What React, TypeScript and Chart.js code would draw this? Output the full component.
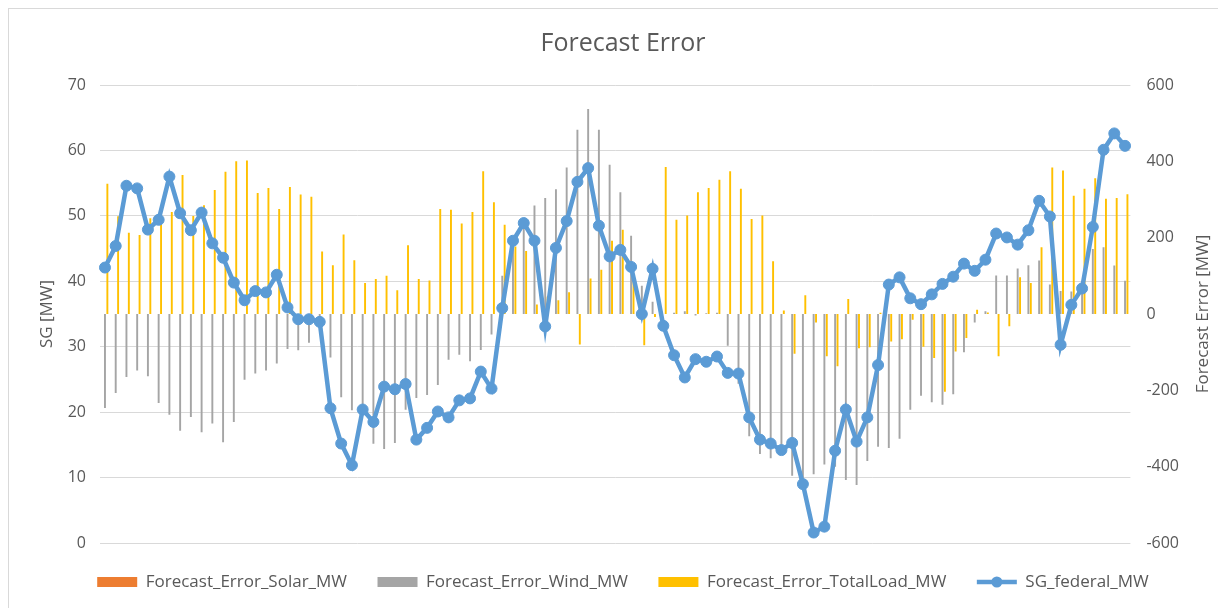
import React, { useEffect, useRef } from 'react';
import { Chart, registerables } from 'chart.js';

Chart.register(...registerables);

// 96 quarter-hour slots of one day (labels not shown on the chart)
const categories: string[] = Array.from({ length: 96 }, (_, i) =>
  `${String(Math.floor(i / 4)).padStart(2, '0')}:${String((i % 4) * 15).padStart(2, '0')}`
);

const sgFederal = [
  42.1, 45.4, 54.6, 54.2, 47.9, 49.4, 56.0, 50.4, 47.8, 50.5, 45.8, 43.6,
  39.8, 37.1, 38.5, 38.3, 41.0, 36.0, 34.2, 34.2, 33.8, 20.6, 15.2, 11.9,
  20.4, 18.5, 23.9, 23.5, 24.3, 15.8, 17.6, 20.1, 19.2, 21.8, 22.1, 26.2,
  23.6, 35.9, 46.2, 48.9, 46.2, 33.1, 45.1, 49.2, 55.2, 57.3, 48.5, 43.8,
  44.8, 42.2, 35.0, 41.9, 33.2, 28.7, 25.3, 28.1, 27.7, 28.5, 26.0, 25.9,
  19.2, 15.8, 15.2, 14.2, 15.3, 9.0, 1.6, 2.5, 14.1, 20.4, 15.5, 19.2,
  27.2, 39.5, 40.6, 37.4, 36.5, 38.0, 39.6, 40.7, 42.7, 41.6, 43.3, 47.3,
  46.7, 45.6, 47.8, 52.3, 49.9, 30.3, 36.4, 38.9, 48.3, 60.1, 62.6, 60.7,
];

const windError = [
  -246, -207, -165, -148, -163, -233, -264, -306, -270, -310, -287, -336,
  -283, -172, -156, -148, -130, -92, -95, -75, -35, -114, -218, -252,
  -250, -340, -354, -338, -251, -220, -212, -186, -120, -107, -124, -94,
  -54, 100, 170, 240, 284, 304, 327, 384, 483, 537, 483, 391,
  319, 205, 74, 32, 0, 3, 7, -4, 2, 3, -83, -183,
  -320, -367, -378, -350, -424, -430, -420, -394, -400, -435, -448, -385,
  -348, -351, -327, -251, -214, -231, -238, -210, -100, -22, 7, 101,
  101, 119, 128, 140, 77, 60, 59, 72, 170, 175, 127, 87,
];

const loadError = [
  341, 256, 213, 207, 251, 240, 267, 364, 257, 285, 325, 373,
  400, 402, 317, 330, 275, 333, 313, 307, 164, 128, 208, 141,
  81, 92, 100, 62, 180, 92, 88, 275, 273, 237, 267, 374,
  293, 234, 177, 165, 25, 46, 36, 57, -80, 93, 116, 192,
  221, 90, -82, -8, 385, 247, 258, 319, 330, 352, 374, 328,
  249, 258, 138, 9, -104, 49, -22, -111, -137, 39, -90, -87,
  3, -72, -66, -15, -86, -115, -204, -98, -63, 11, 4, -111,
  -32, 96, 81, 175, 384, 376, 310, 328, 356, 302, 304, 314,
];

const solarError = [
  0, 0, 0, 0, 0, 0, 0, 0, 0, 0, 0, 0,
  0, 0, 0, 0, 0, 0, 0, 0, 0, 0, 0, 0,
  0, 0, 0, 0, 0, 0, 0, 0, 0, 0, 0, 0,
  0, 0, 0, 0, 0, 0, 0, 0, 0, 0, 0, 0,
  0, 0, 0, 0, 0, 0, 0, 0, 0, 0, 0, 0,
  0, 0, 0, 0, 0, 0, 0, 0, 0, 0, 0, 0,
  0, 0, 0, 0, 0, 0, 0, 0, 0, 0, 0, 0,
  0, 0, 0, 0, 0, 0, 0, 0, 0, 0, 0, 0,
];

const ORANGE = '#ED7D31';
const GRAY = '#A5A5A5';
const YELLOW = '#FFC000';
const BLUE = '#5B9BD5';
const TEXT = '#595959';
const GRID = '#D9D9D9';
const FONT = "'Open Sans', 'Noto Sans', sans-serif";

const LINE_INDEX = 3;

const extrasPlugin = {
  id: 'extras',
  afterDraw(chart: any) {
    const ctx = chart.ctx;
    const legend = chart.legend;
    if (legend && legend.legendHitBoxes && legend.legendItems) {
      const idx = legend.legendItems.findIndex((it: any) => it.datasetIndex === LINE_INDEX);
      const hb = legend.legendHitBoxes[idx];
      if (hb) {
        const cy = hb.top + hb.height / 2;
        ctx.save();
        ctx.strokeStyle = BLUE;
        ctx.lineWidth = 4.5;
        ctx.beginPath();
        ctx.moveTo(hb.left, cy);
        ctx.lineTo(hb.left + 40, cy);
        ctx.stroke();
        ctx.fillStyle = BLUE;
        ctx.beginPath();
        ctx.arc(hb.left + 20, cy, 5.5, 0, Math.PI * 2);
        ctx.fill();
        ctx.restore();
      }
    }
    // secondary axis title, rotated like the primary one (reads bottom to top)
    const area = chart.chartArea;
    ctx.save();
    ctx.translate(1194, (area.top + area.bottom) / 2);
    ctx.rotate(-Math.PI / 2);
    ctx.font = `17px ${FONT}`;
    ctx.fillStyle = TEXT;
    ctx.textAlign = 'center';
    ctx.textBaseline = 'middle';
    ctx.fillText('Forecast Error [MW]', 0, 0);
    ctx.restore();
  },
};

export default function App() {
  const canvasRef = useRef<HTMLCanvasElement | null>(null);

  useEffect(() => {
    if (!canvasRef.current) return;
    const barCommon = {
      type: 'bar' as const,
      yAxisID: 'yR',
      borderWidth: 0,
      categoryPercentage: 0.67,
      barPercentage: 0.8,
      order: 1,
    };
    const chart = new Chart(canvasRef.current, {
      type: 'bar',
      data: {
        labels: categories,
        datasets: [
          { ...barCommon, label: 'Forecast_Error_Solar_MW', data: solarError, backgroundColor: ORANGE },
          { ...barCommon, label: 'Forecast_Error_Wind_MW', data: windError, backgroundColor: GRAY },
          { ...barCommon, label: 'Forecast_Error_TotalLoad_MW', data: loadError, backgroundColor: YELLOW },
          {
            type: 'line',
            label: 'SG_federal_MW',
            data: sgFederal,
            yAxisID: 'yL',
            borderColor: BLUE,
            backgroundColor: BLUE,
            borderWidth: 4.5,
            pointRadius: 5.5,
            pointBorderWidth: 1,
            pointBackgroundColor: BLUE,
            pointBorderColor: BLUE,
            tension: 0,
            order: 0,
          } as any,
        ],
      },
      options: {
        responsive: false,
        animation: false,
        layout: { padding: { left: 18, right: 0, top: 0, bottom: 8.5 } },
        font: { family: FONT },
        plugins: {
          title: {
            display: true,
            text: 'Forecast Error',
            color: TEXT,
            font: { family: FONT, size: 25, weight: 'normal' },
            padding: { top: 20, bottom: 26 },
          },
          legend: {
            position: 'bottom',
            labels: {
              color: TEXT,
              font: { family: FONT, size: 17 },
              boxWidth: 40,
              boxHeight: 10,
              padding: 30.5,
              sort: (a: any, b: any) => a.datasetIndex - b.datasetIndex,
              generateLabels: (ch: any) => {
                const items = Chart.defaults.plugins.legend.labels.generateLabels(ch);
                return items.map((it: any) =>
                  it.datasetIndex === LINE_INDEX
                    ? { ...it, fillStyle: 'rgba(0,0,0,0)', strokeStyle: 'rgba(0,0,0,0)', lineWidth: 0 }
                    : { ...it, lineWidth: 0 }
                );
              },
            },
          },
          tooltip: { enabled: false },
        },
        scales: {
          x: {
            display: false,
          },
          yL: {
            type: 'linear',
            position: 'left',
            min: 0,
            max: 70,
            ticks: { stepSize: 10, color: TEXT, font: { family: FONT, size: 16 }, padding: 13.6 },
            grid: { color: GRID, lineWidth: 1, drawTicks: false },
            border: { display: false },
            title: {
              display: true,
              text: 'SG [MW]',
              color: TEXT,
              font: { family: FONT, size: 17 },
              padding: { top: 10, bottom: 0 },
            },
            afterFit: (scale: any) => {
              scale.width = 72.6;
            },
          },
          yR: {
            type: 'linear',
            position: 'right',
            min: -600,
            max: 600,
            ticks: { stepSize: 200, color: TEXT, font: { family: FONT, size: 16 }, padding: 16 },
            grid: { display: false, drawTicks: false },
            border: { display: false },
            afterFit: (scale: any) => {
              scale.width = 88.6;
            },
          },
        },
      },
      plugins: [extrasPlugin],
    } as any);
    return () => chart.destroy();
  }, []);

  return (
    <div style={{ width: 1210, height: 600, border: `1px solid ${GRID}`, background: '#fff' }}>
      <canvas ref={canvasRef} width={1210} height={600} style={{ display: 'block' }} />
    </div>
  );
}
